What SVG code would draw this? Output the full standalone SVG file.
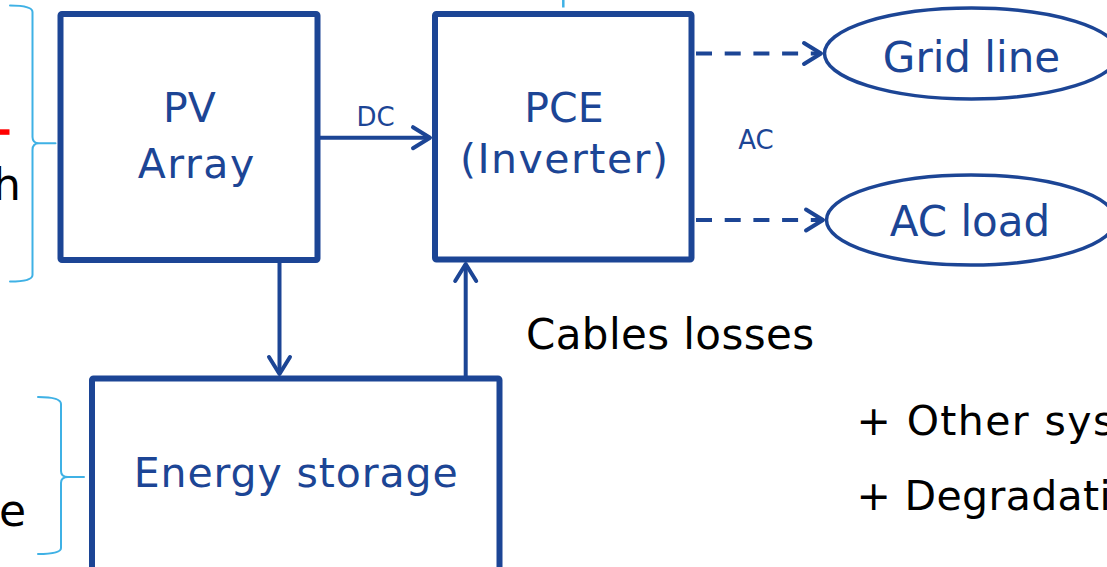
<svg xmlns="http://www.w3.org/2000/svg" width="1107" height="567" viewBox="0 0 1107 567">
  <style>
    .box { fill: #ffffff; stroke: #1C4595; stroke-width: 6; }
    .oval { fill: #ffffff; stroke: #1C4595; stroke-width: 3.5; }
    .lbl { font-family: "DejaVu Sans", Verdana, sans-serif; fill: #1C4595; text-anchor: middle; }
    .blk { font-family: "DejaVu Sans", Verdana, sans-serif; fill: #000000; }
    .conn { fill: none; stroke: #1C4595; stroke-width: 4; }
    .dash { stroke-dasharray: 16 12.7; }
    .brace { fill: none; stroke: #3FB1E5; stroke-width: 2; stroke-linecap: round; stroke-linejoin: round; }
  </style>
  <defs>
    <marker id="chev" markerUnits="userSpaceOnUse" markerWidth="40" markerHeight="40" viewBox="-30 -20 40 40" refX="0" refY="0" orient="auto">
      <path d="M-17,-10.5 L0,0 L-17,10.5" fill="none" stroke="#1C4595" stroke-width="4" stroke-dasharray="none" stroke-linecap="round" stroke-linejoin="round"/>
    </marker>
  </defs>
  <rect width="1107" height="567" fill="#ffffff"/>

  <g id="annotations">
    <path class="brace" d="M10,5.5 Q32.5,5.5 32.5,12 L32.5,137 Q32.5,143.3 39,143.3 L55.5,143.3 M39,143.3 Q32.5,143.3 32.5,150 L32.5,275 Q32.5,281.5 10,281.5"/>
    <path class="brace" d="M38,397 Q61,397 61,404 L61,471 Q61,477 68,477 L84,477 M68,477 Q61,477 61,483 L61,548 Q61,554 38,554"/>
    <line x1="563.3" y1="0" x2="563.3" y2="7.5" stroke="#3FB1E5" stroke-width="2.5"/>
    <rect x="0" y="129.3" width="9.5" height="5.5" fill="#FF0000"/>
    <text class="blk" x="-7" y="200" font-size="44">h</text>
    <text class="blk" x="-1" y="526" font-size="44">e</text>
    <text class="blk" x="526" y="349" font-size="42" letter-spacing="0.4">Cables losses</text>
    <text class="blk" x="856.5" y="435" font-size="41" letter-spacing="1.4">+ Other sys</text>
    <text class="blk" x="856.5" y="510" font-size="41" letter-spacing="0.35">+ Degradati</text>
  </g>

  <g id="connectors">
    <line class="conn" x1="320" y1="137.7" x2="430" y2="137.7" marker-end="url(#chev)"/>
    <text class="lbl" x="375.5" y="125.7" font-size="26">DC</text>
    <line class="conn" x1="279.5" y1="263" x2="279.5" y2="374" marker-end="url(#chev)"/>
    <line class="conn" x1="465.7" y1="376" x2="465.7" y2="264" marker-end="url(#chev)"/>
    <line class="conn dash" x1="696" y1="53.5" x2="821" y2="53.5" marker-end="url(#chev)"/>
    <line class="conn dash" x1="696" y1="220" x2="823" y2="220" marker-end="url(#chev)"/>
    <text class="lbl" x="756" y="149" font-size="26">AC</text>
  </g>

  <g id="pv-array">
    <rect class="box" x="60.5" y="14" width="257" height="246" rx="1.5"/>
    <text class="lbl" x="189.5" y="122" font-size="41">PV</text>
    <text class="lbl" x="196.7" y="178" font-size="41" letter-spacing="1.5">Array</text>
  </g>

  <g id="pce-inverter">
    <rect class="box" x="435" y="14" width="256.5" height="245.5" rx="1.5"/>
    <text class="lbl" x="564" y="121.7" font-size="41">PCE</text>
    <text class="lbl" x="564.7" y="173.3" font-size="41" letter-spacing="1.5">(Inverter)</text>
  </g>

  <g id="energy-storage">
    <rect class="box" x="92" y="378.5" width="407.5" height="210" rx="1.5"/>
    <text class="lbl" x="296.2" y="486.7" font-size="41" letter-spacing="0.9">Energy storage</text>
  </g>

  <g id="grid-line">
    <ellipse class="oval" cx="971.5" cy="53.5" rx="147" ry="45.5"/>
    <text class="lbl" x="971.5" y="72" font-size="42">Grid line</text>
  </g>

  <g id="ac-load">
    <ellipse class="oval" cx="971" cy="220" rx="144.5" ry="45"/>
    <text class="lbl" x="970" y="236" font-size="42">AC load</text>
  </g>
</svg>
